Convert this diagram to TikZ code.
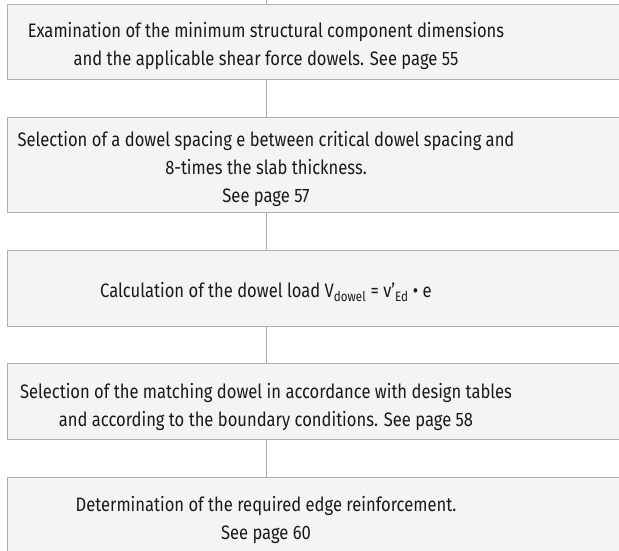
\documentclass[tikz,border=0pt]{standalone}
\usepackage{fontspec}
\setmainfont[FakeStretch=0.85]{Fira Sans}
\definecolor{boxfill}{HTML}{F4F4F4}
\definecolor{boxline}{HTML}{AFAFAF}
\definecolor{txt}{HTML}{1A1A1A}
\begin{document}
\begin{tikzpicture}[x=1pt,y=-1pt,
  stepbox/.style={draw=boxline,fill=boxfill,line width=0.9pt,rectangle,minimum width=700pt,inner sep=0pt},
  steptext/.style={align=center,text=txt,inner sep=0pt,font=\fontsize{19.5}{28}\selectfont},
  link/.style={draw=boxline,line width=0.9pt}]
\useasboundingbox (0,0) rectangle (619,551);
\node[stepbox,minimum height=75pt] (b1) at (357,41.5) {};
\node[stepbox,minimum height=95pt] (b2) at (357,164.5) {};
\node[stepbox,minimum height=76pt] (b3) at (357,288) {};
\node[stepbox,minimum height=76pt] (b4) at (357,401.5) {};
\node[stepbox,minimum height=76pt] (b5) at (357,515) {};
\node[steptext] (t1) at (266,45.5) {Examination of the minimum structural component dimensions\\and the applicable shear force dowels. See page 55};
\node[steptext] (t2) at (266,169) {Selection of a dowel spacing e between critical dowel spacing and\\8-times the slab thickness.\\See page 57};
\node[steptext] (t3) at (266,292) {Calculation of the dowel load V\textsubscript{dowel} = v’\textsubscript{Ed} • e};
\node[steptext] (t4) at (266,406.5) {Selection of the matching dowel in accordance with design tables\\and according to the boundary conditions. See page 58};
\node[steptext] (t5) at (266,520) {Determination of the required edge reinforcement.\\See page 60};
\coordinate (top) at (266,0);
\draw[link] (top) -- (t1 |- b1.north);
\draw[link] (t1 |- b1.south) -- (t2 |- b2.north);
\draw[link] (t2 |- b2.south) -- (t3 |- b3.north);
\draw[link] (t3 |- b3.south) -- (t4 |- b4.north);
\draw[link] (t4 |- b4.south) -- (t5 |- b5.north);
\end{tikzpicture}
\end{document}
